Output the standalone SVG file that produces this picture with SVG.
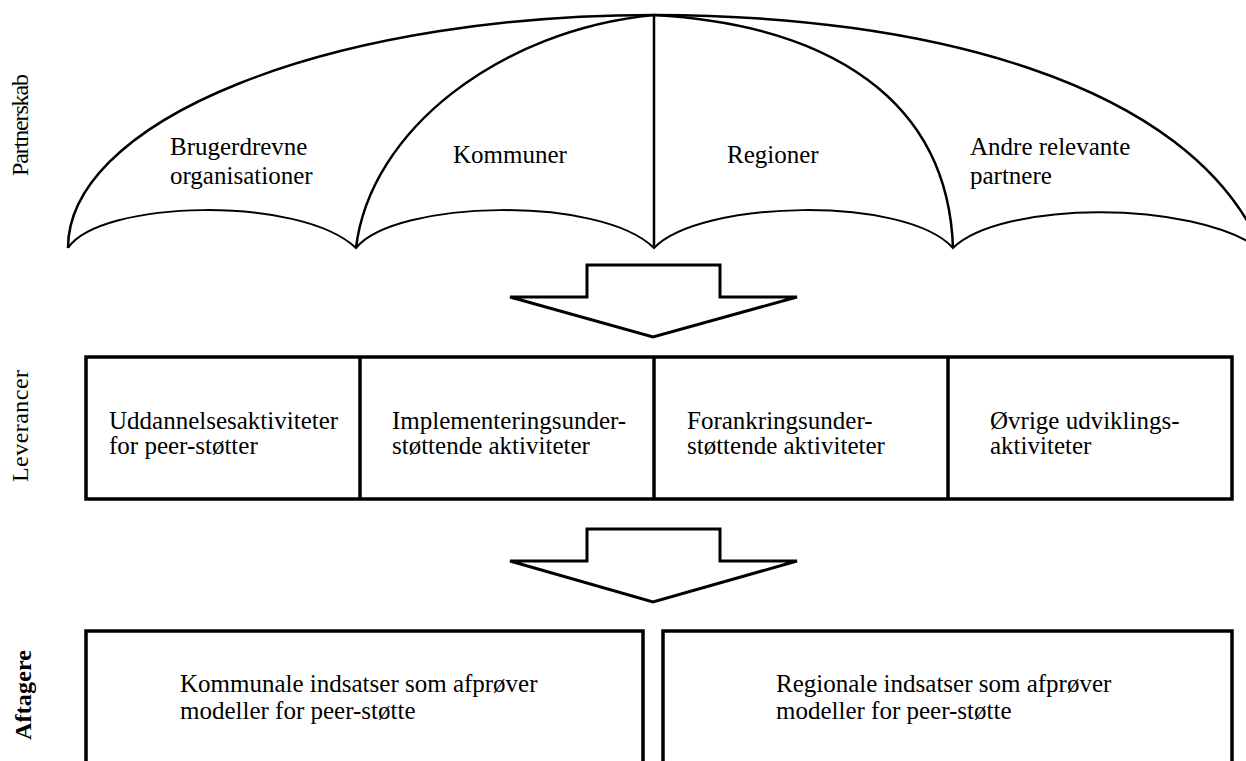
<svg xmlns="http://www.w3.org/2000/svg" width="1246" height="761" viewBox="0 0 1246 761">
<style>
.t{font-family:"Liberation Serif","Times New Roman",serif;font-size:25px;fill:#000}
.side{font-family:"Liberation Serif","Times New Roman",serif;font-size:24px;fill:#000}
.ln{fill:none;stroke:#000;stroke-width:2.5;stroke-linejoin:miter}
.thin{fill:none;stroke:#000;stroke-width:2}
.box{fill:#fff;stroke:#000;stroke-width:3.5}
.arr{fill:#fff;stroke:#000;stroke-width:3;stroke-linejoin:miter}
</style>
<rect width="1246" height="761" fill="#fff"/>
<g id="labels">
<text class="side" transform="translate(28,125) rotate(-90)" text-anchor="middle" textLength="102">Partnerskab</text>
<text class="side" transform="translate(28,426) rotate(-90)" text-anchor="middle" textLength="112">Leverancer</text>
<text class="side" transform="translate(31,695) rotate(-90)" text-anchor="middle" font-weight="bold" textLength="90">Aftagere</text>
</g>
<g id="umbrella">
<path class="ln" d="M68,248 A586,233 0 0 1 654,15 C920,15 1190,80 1262,250"/>
<path class="ln" stroke-width="3" d="M356,248 C370,130 500,30 654,15"/>
<path class="ln" stroke-width="3" d="M953,248 C948,100 830,25 654,15"/>
<path class="ln" stroke-width="3.5" d="M654,15 L654,246"/>
<path class="thin" d="M68,248 C100,200 300,195 356,248 C395,200 600,195 654,248 C700,200 905,195 953,248 C1000,202 1190,198 1262,250"/>
</g>
<g id="partner1"><text class="t" x="170" y="155">Brugerdrevne</text><text class="t" x="170" y="184">organisationer</text></g>
<g id="partner2"><text class="t" x="453" y="163">Kommuner</text></g>
<g id="partner3"><text class="t" x="727" y="163">Regioner</text></g>
<g id="partner4"><text class="t" x="970" y="155">Andre relevante</text><text class="t" x="970" y="184">partnere</text></g>
<g id="connectors">
<polygon class="arr" points="587,265 720,265 720,297 797,297 653,337 510,297 587,297"/>
<polygon class="arr" points="587,529 720,529 720,561 797,561 653,602 510,561 587,561"/>
</g>
<g id="leverancer">
<rect class="box" x="86" y="357" width="1146" height="142"/>
<line x1="360" y1="357" x2="360" y2="499" stroke="#000" stroke-width="3.5"/>
<line x1="654" y1="357" x2="654" y2="499" stroke="#000" stroke-width="3.5"/>
<line x1="948" y1="357" x2="948" y2="499" stroke="#000" stroke-width="3.5"/>
</g>
<g id="lev1"><text class="t" x="109" y="429">Uddannelsesaktiviteter</text><text class="t" x="109" y="454">for peer-støtter</text></g>
<g id="lev2"><text class="t" x="392" y="429">Implementeringsunder-</text><text class="t" x="392" y="454">støttende aktiviteter</text></g>
<g id="lev3"><text class="t" x="687" y="429">Forankringsunder-</text><text class="t" x="687" y="454">støttende aktiviteter</text></g>
<g id="lev4"><text class="t" x="990" y="429">Øvrige udviklings-</text><text class="t" x="990" y="454">aktiviteter</text></g>
<g id="aftager1">
<rect class="box" x="86" y="631" width="557" height="150"/>
<text class="t" x="180" y="692">Kommunale indsatser som afprøver</text><text class="t" x="180" y="719">modeller for peer-støtte</text>
</g>
<g id="aftager2">
<rect class="box" x="663" y="631" width="569" height="150"/>
<text class="t" x="776" y="692">Regionale indsatser som afprøver</text><text class="t" x="776" y="719">modeller for peer-støtte</text>
</g>
</svg>
